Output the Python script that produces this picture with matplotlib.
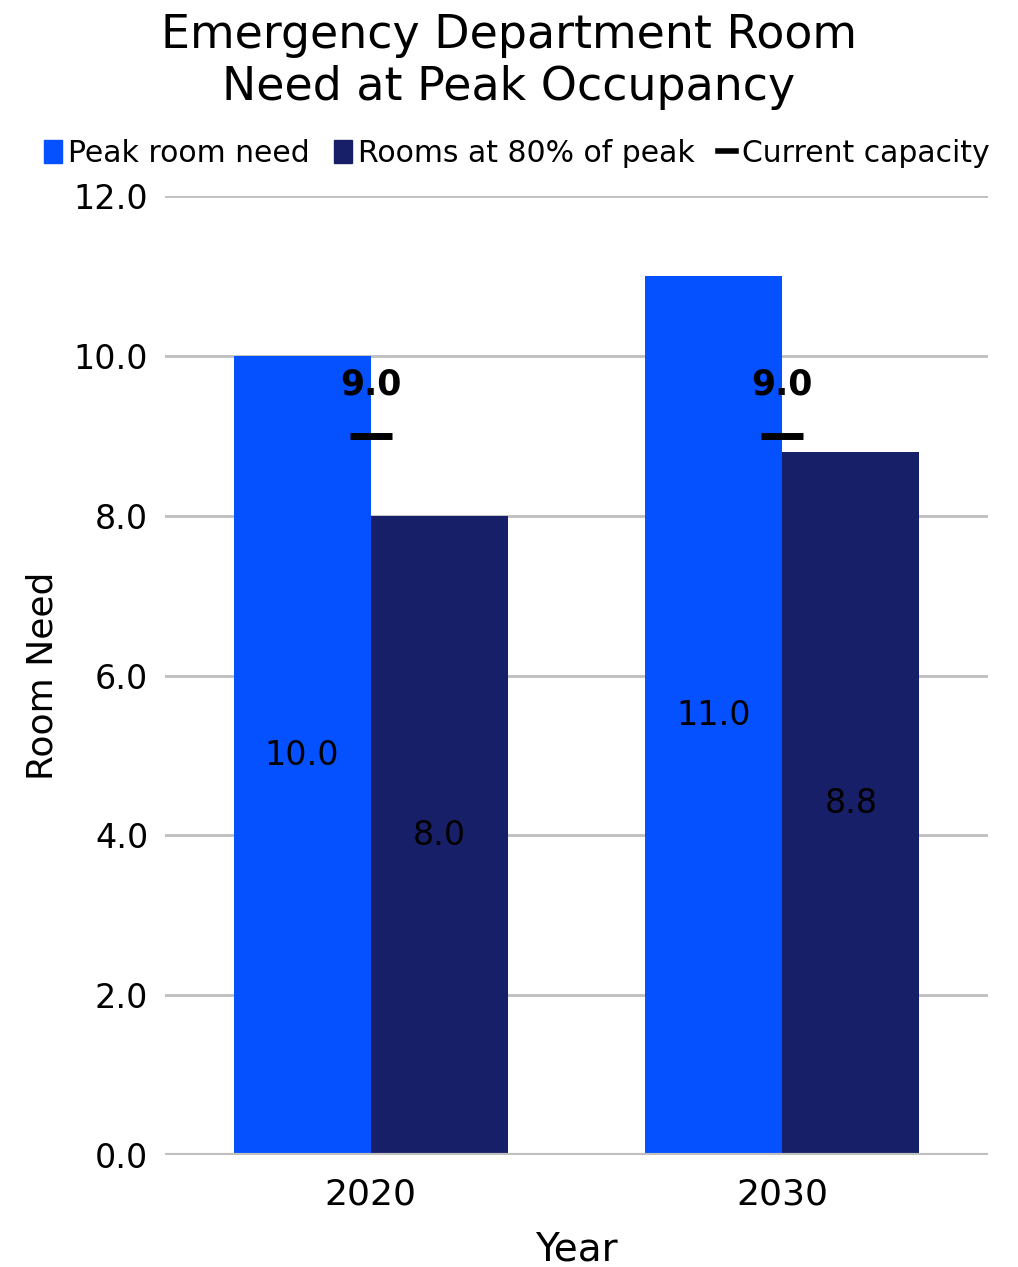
import matplotlib.pyplot as plt
from matplotlib.patches import Patch
from matplotlib.lines import Line2D
import numpy as np

plt.rcParams['font.family'] = ['DejaVu Sans']

YEARS = ['2020', '2030']
PEAK_NEED = [10.0, 11.0]
ROOMS_80 = [8.0, 8.8]
CAPACITY = [9.0, 9.0]

BLUE = '#0550FF'
NAVY = '#181F69'
GRID = '#BFBFBF'

fig = plt.figure(figsize=(10.18, 12.67), dpi=100)
ax = fig.add_axes([0.162, 0.0884, 0.8085, 0.7569])

x = np.arange(len(YEARS))
w = 1 / 3
b1 = ax.bar(x - w / 2, PEAK_NEED, w, color=BLUE, zorder=2)
b2 = ax.bar(x + w / 2, ROOMS_80, w, color=NAVY, zorder=2)

for bar, v in zip(b1, PEAK_NEED):
    ax.text(bar.get_x() + bar.get_width() / 2, v / 2, f'{v:.1f}',
            ha='center', va='center', fontsize=24, color='black', zorder=4)
for bar, v in zip(b2, ROOMS_80):
    ax.text(bar.get_x() + bar.get_width() / 2, v / 2, f'{v:.1f}',
            ha='center', va='center', fontsize=24, color='black', zorder=4)

ax.plot(x, CAPACITY, linestyle='none', marker='_', markersize=30,
        markeredgewidth=5, color='black', zorder=5)
for xi, v in zip(x, CAPACITY):
    ax.annotate(f'{v:.1f}', (xi, v), xytext=(0, 37), textcoords='offset points',
                ha='center', va='center', fontsize=25, fontweight='bold', zorder=5)

ax.set_xlim(-0.5, 1.5)
ax.set_ylim(0, 12)
ax.set_yticks(np.arange(0, 12.1, 2))
ax.set_yticklabels([f'{t:.1f}' for t in np.arange(0, 12.1, 2)])
ax.set_xticks(x)
ax.set_xticklabels(YEARS)
ax.tick_params(axis='y', length=0, labelsize=24, pad=12)
ax.tick_params(axis='x', length=0, labelsize=26, pad=16)
ax.grid(axis='y', color=GRID, linewidth=2, zorder=0)
for s in ax.spines.values():
    s.set_visible(False)
ax.axhline(0, color=GRID, linewidth=3, zorder=3)

ax.set_xlabel('Year', fontsize=28, labelpad=14)
ax.set_ylabel('Room Need', fontsize=26, labelpad=10)

fig.text(0.5, 0.99, 'Emergency Department Room\nNeed at Peak Occupancy',
         ha='center', va='top', fontsize=33, linespacing=1.2)

handles = [Patch(color=BLUE), Patch(color=NAVY),
           Line2D([], [], color='black', linewidth=4)]
labels = ['Peak room need', 'Rooms at 80% of peak', 'Current capacity']
fig.legend(handles, labels, loc='center', bbox_to_anchor=(0.508, 0.879), ncol=3,
           frameon=False, fontsize=21.5, handlelength=0.6, handleheight=0.8,
           handletextpad=0.2, columnspacing=0.8)

fig.savefig('out.png', dpi=100)
